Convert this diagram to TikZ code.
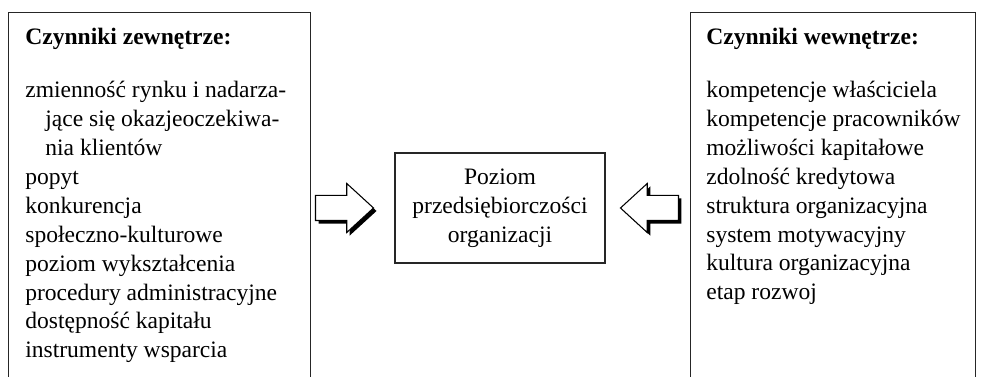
\documentclass[tikz,border=0pt]{standalone}
\usepackage{fontspec}
\setmainfont{Liberation Serif}
\usepackage{tikz}
\usetikzlibrary{shapes,arrows,positioning,shadows}
\newcommand{\diagsize}{\fontsize{13.4}{16.5}\selectfont}

\begin{document}
\begin{tikzpicture}[
    box/.style={rectangle, draw=black!85, line width=0.8pt, inner sep=0pt},
    head/.style={font=\diagsize\bfseries, anchor=base west, inner sep=0pt},
    list/.style={font=\diagsize, align=left, anchor=base west, inner sep=0pt},
    blockarrow/.style={single arrow, draw=black, fill=white, line width=0.6pt, minimum height=1.16cm, minimum width=0.96cm, single arrow head extend=0.24cm, single arrow tip angle=85, inner sep=0pt, inner ysep=0.24cm, drop shadow={shadow xshift=0.06cm, shadow yshift=-0.06cm, opacity=1, fill=black}}
]

% picture frame, the side boxes run off the bottom
\useasboundingbox (0,0) rectangle (19.62,7.54);
\clip (0,0) rectangle (19.62,7.54);

% Centre
\node[box, minimum width=4.2cm, minimum height=2.2cm, align=center, font=\diagsize] (poziom) at (10, 3.38) {Poziom\\przedsiębiorczości\\organizacji};

% External factors (base = last line)
\node[box, minimum width=6.04cm, minimum height=8cm, anchor=north west] (zew) at (0.16, 7.3) {};
\node[head] (zewhead) at (0.5, 6.64) {Czynniki zewnętrze:};
\node[list] (zewlist) at (0.5, 0.38) {zmienność rynku i nadarza-\\
    \hspace*{0.4cm}jące się okazjeoczekiwa-\\
    \hspace*{0.4cm}nia klientów\\
    popyt\\
    konkurencja\\
    społeczno-kulturowe\\
    poziom wykształcenia\\
    procedury administracyjne\\
    dostępność kapitału\\
    instrumenty wsparcia};

% Internal factors
\node[box, minimum width=5.7cm, minimum height=8cm, anchor=north west] (wew) at (13.8, 7.3) {};
\node[head] (wewhead) at (14.12, 6.64) {Czynniki wewnętrze:};
\node[list] (wewlist) at (14.12, 1.54) {kompetencje właściciela\\
    kompetencje pracowników\\
    możliwości kapitałowe\\
    zdolność kredytowa\\
    struktura organizacyjna\\
    system motywacyjny\\
    kultura organizacyjna\\
    etap rozwoj};

% Arrows into the centre
\node[blockarrow, left=0.4cm of poziom] (zewarrow) {};
\node[blockarrow, shape border rotate=180, right=0.28cm of poziom] (wewarrow) {};

\end{tikzpicture}
\end{document}
